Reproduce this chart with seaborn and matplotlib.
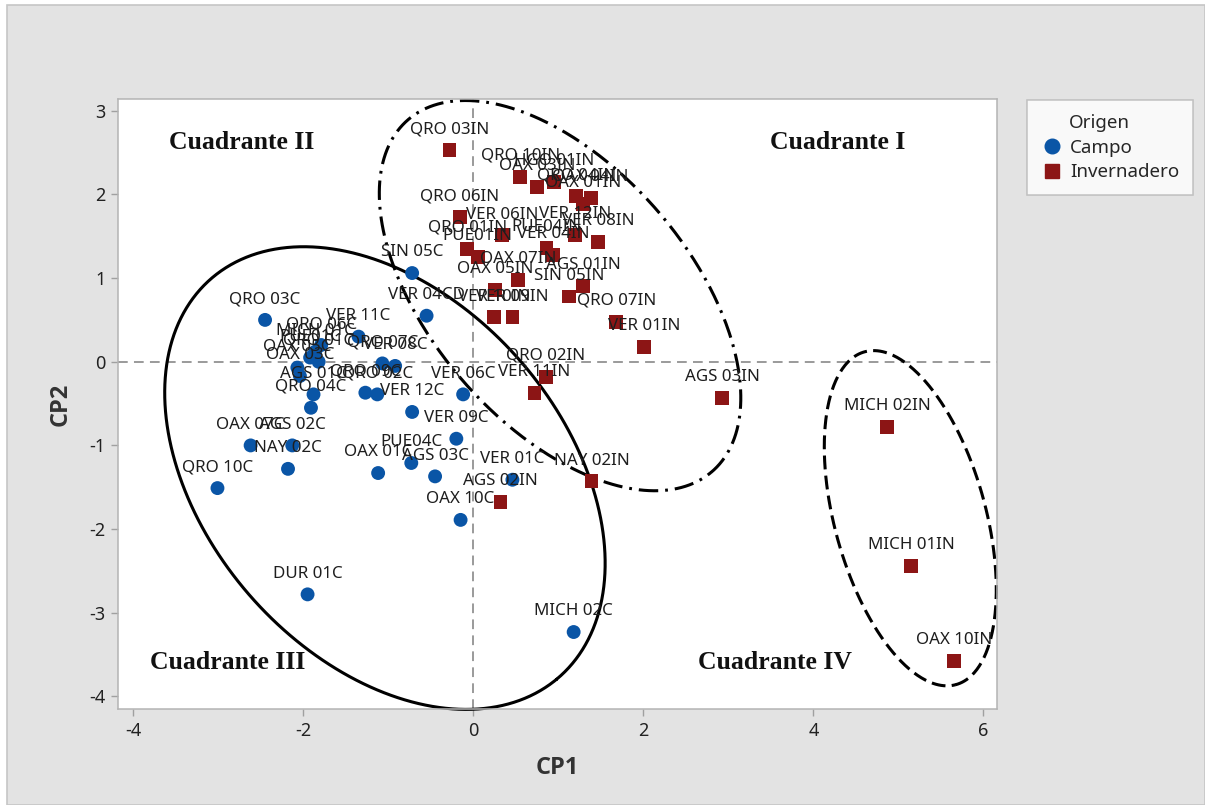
import numpy as np
import pandas as pd
import matplotlib
matplotlib.use("Agg")
import matplotlib.pyplot as plt
import seaborn as sns
from matplotlib.patches import Rectangle
from matplotlib.lines import Line2D

# ---------------- data ----------------
campo_names = ["SIN 05C", "VER 04CD", "QRO 03C", "VER 11C", "QRO 06C", "MICH 01C",
               "PUE01C", "QRO 01C", "QRO 07C", "VER 08C", "OAX 05C", "OAX 03C",
               "QRO 09C", "QRO 02C", "AGS 01C", "VER 06C", "QRO 04C", "VER 12C",
               "VER 09C", "OAX 07C", "AGS 02C", "PUE04C", "NAY 02C", "OAX 01C",
               "AGS 03C", "VER 01C", "QRO 10C", "OAX 10C", "DUR 01C", "MICH 02C"]
campo_cp1 = [-0.72, -0.55, -2.45, -1.35, -1.79, -1.86, -1.92, -1.82, -1.07, -0.92,
             -2.07, -2.04, -1.27, -1.13, -1.88, -0.12, -1.91, -0.72, -0.20, -2.62,
             -2.13, -0.73, -2.18, -1.12, -0.45, 0.46, -3.01, -0.15, -1.95, 1.18]
campo_cp2 = [1.06, 0.55, 0.50, 0.30, 0.20, 0.12, 0.05, 0.00, -0.02, -0.05,
             -0.07, -0.17, -0.37, -0.39, -0.39, -0.39, -0.55, -0.60, -0.92, -1.00,
             -1.00, -1.21, -1.28, -1.33, -1.37, -1.41, -1.51, -1.89, -2.78, -3.23]

inv_names = ["QRO 03IN", "QRO 10IN", "OAX 03IN", "HGO 01IN", "QRO 04IN", "OAX 04IN",
             "OAX 01IN", "QRO 06IN", "VER 06IN", "VER 12IN", "VER 08IN", "QRO 01IN",
             "PUE01IN", "PUE04IN", "VER 04IN", "OAX 07IN", "AGS 01IN", "SIN 05IN",
             "OAX 05IN", "VER 10IN", "VER 09IN", "QRO 07IN", "VER 01IN", "QRO 02IN",
             "VER 11IN", "AGS 03IN", "NAY 02IN", "AGS 02IN", "MICH 02IN", "MICH 01IN",
             "OAX 10IN"]
inv_cp1 = [-0.28, 0.55, 0.75, 0.95, 1.21, 1.38, 1.29, -0.16, 0.34, 1.20, 1.47, -0.07,
           0.05, 0.86, 0.94, 0.53, 1.29, 1.13, 0.26, 0.24, 0.46, 1.68, 2.01, 0.85,
           0.72, 2.93, 1.39, 0.32, 4.87, 5.15, 5.65]
inv_cp2 = [2.53, 2.21, 2.09, 2.15, 1.98, 1.96, 1.89, 1.73, 1.51, 1.52, 1.43, 1.35,
           1.25, 1.36, 1.28, 0.98, 0.91, 0.78, 0.86, 0.53, 0.53, 0.48, 0.18, -0.18,
           -0.37, -0.43, -1.43, -1.68, -0.78, -2.44, -3.58]

x_ticks = [-4, -2, 0, 2, 4, 6]
y_ticks = [-4, -3, -2, -1, 0, 1, 2, 3]
quadrant_texts = ["Cuadrante I", "Cuadrante II", "Cuadrante III", "Cuadrante IV"]

# ---------------- frame ----------------
df = pd.DataFrame({
    "CP1": campo_cp1 + inv_cp1,
    "CP2": campo_cp2 + inv_cp2,
    "Nombre": campo_names + inv_names,
    "Origen": ["Campo"] * len(campo_names) + ["Invernadero"] * len(inv_names),
})

blue = "#0a55a6"
red = "#8c1515"
palette = {"Campo": blue, "Invernadero": red}
markers = {"Campo": "o", "Invernadero": "s"}

sns.set_style("white")
plt.rcParams["font.family"] = ["Noto Sans", "DejaVu Sans"]
plt.rcParams["lines.scale_dashes"] = False
plt.rcParams["axes.unicode_minus"] = False

fig = plt.figure(figsize=(12.05, 8.05), dpi=100, facecolor="white")
fig.patches.append(Rectangle((7 / 1205, 0), 1 - 7 / 1205, 1 - 5 / 805,
                             transform=fig.transFigure, facecolor="#e3e3e3",
                             edgecolor="#c6c6c6", lw=1.2, zorder=-10))
ax = fig.add_axes([118 / 1205, (805 - 709) / 805, (997 - 118) / 1205, (709 - 99) / 805])
ax.set_facecolor("white")

# reference lines
ax.axhline(0, color="#9a9a9a", lw=1.4, ls=(0, (7, 4.5)), zorder=1)
ax.axvline(0, color="#9a9a9a", lw=1.4, ls=(0, (7, 4.5)), zorder=1)

sns.scatterplot(data=df, x="CP1", y="CP2", hue="Origen", style="Origen",
                palette=palette, markers=markers, s=100, linewidth=0,
                legend=False, ax=ax, zorder=3)

for _, r in df.iterrows():
    ax.annotate(r["Nombre"], (r["CP1"], r["CP2"]), xytext=(0, 15),
                textcoords="offset points", ha="center", va="center",
                fontsize=12.2, color="#1e1e1e", zorder=4)

# ellipses (annotation shapes)
def ellipse(ax, cx, cy, a, b, ang, **kw):
    t = np.linspace(0, 2 * np.pi, 400)
    th = np.deg2rad(ang)
    xs = cx + a * np.cos(t) * np.cos(th) - b * np.sin(t) * np.sin(th)
    ys = cy + a * np.cos(t) * np.sin(th) + b * np.sin(t) * np.cos(th)
    ax.plot(xs, ys, color="black", lw=2.2, clip_on=False, zorder=2, **kw)

ellipse(ax, -1.04, -1.39, 3.14, 2.12, -50, ls="-")
ellipse(ax, 1.02, 0.79, 2.76, 1.53, -50, ls=(0, (14, 5, 2, 5)))
ellipse(ax, 5.14, -1.87, 2.06, 0.89, -75, ls=(0, (10, 4.5)))

# quadrant labels
qkw = dict(fontsize=18.5, fontweight="bold", family="Liberation Serif", color="#111111",
           ha="center", va="center")
ax.text(4.29, 2.62, quadrant_texts[0], **qkw)
ax.text(-2.72, 2.62, quadrant_texts[1], **qkw)
ax.text(-2.89, -3.6, quadrant_texts[2], **qkw)
ax.text(3.55, -3.6, quadrant_texts[3], **qkw)

ax.set_xlim(-4.18, 6.16)
ax.set_ylim(-4.15, 3.14)
ax.set_xticks(x_ticks)
ax.set_yticks(y_ticks)
ax.tick_params(axis="both", direction="out", length=5, width=1, color="#a0a0a0",
               labelsize=13, labelcolor="#222222", pad=4)
ax.tick_params(left=True, bottom=True)
for s in ax.spines.values():
    s.set_color("#b4b4b4")
    s.set_linewidth(1.1)

ax.set_xlabel("CP1", fontsize=17, fontweight="bold", family=["Open Sans", "DejaVu Sans"],
              color="#333333", labelpad=12)
ax.set_ylabel("CP2", fontsize=17, fontweight="bold", family=["Open Sans", "DejaVu Sans"],
              color="#333333", labelpad=12)

handles = [Line2D([], [], ls="", marker="o", color=blue, markersize=10.5),
           Line2D([], [], ls="", marker="s", color=red, markersize=10.5)]
leg = fig.legend(handles, ["Campo", "Invernadero"], title="Origen",
                 loc="upper left", bbox_to_anchor=(1027 / 1205, 1 - 100 / 805),
                 fontsize=13.5, title_fontsize=13.5, frameon=True, fancybox=False,
                 edgecolor="#b4b4b4", facecolor="white", borderpad=0.75,
                 handletextpad=0.35, labelspacing=0.35, handlelength=1.2,
                 borderaxespad=0)
leg.get_frame().set_linewidth(1.1)
leg._legend_box.align = "left"
leg.get_title().set_position((28, 0))

fig.savefig("out.png", dpi=100, facecolor=fig.get_facecolor())
